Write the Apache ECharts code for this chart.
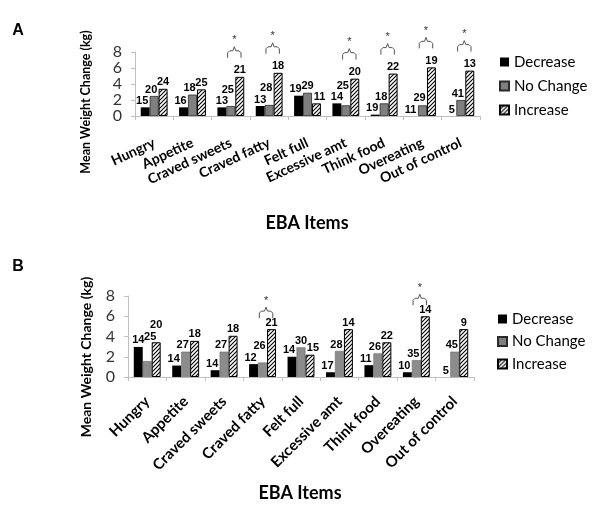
<!DOCTYPE html>
<html><head><meta charset="utf-8">
<script src="https://cdn.jsdelivr.net/npm/echarts@6/dist/echarts.min.js"></script>
<style>html,body{margin:0;padding:0;background:#fff}#c{width:600px;height:511px}</style>
</head><body><div id="c"></div>
<script>
const categories = ['Hungry','Appetite','Craved sweets','Craved fatty','Felt full','Excessive amt','Think food','Overeating','Out of control'];
const yTicks = [0, 2, 4, 6, 8];
const seriesNames = ['Decrease', 'No Change', 'Increase'];

// Panel A: mean weight change (kg)
const decreaseA = [1.08, 1.08, 1.08, 1.25, 2.54, 1.58, 0.17, 0, 0];
const noChangeA = [2.5, 2.67, 1.25, 1.38, 2.9, 1.33, 1.58, 1.33, 2.0];
const increaseA = [3.4, 3.33, 4.9, 5.4, 1.58, 4.67, 5.3, 6.08, 5.67];
// Panel A: counts shown above bars
const decreaseNA = [15, 16, 13, 13, 19, 14, 19, 11, 5];
const noChangeNA = [20, 18, 25, 28, 29, 25, 18, 29, 41];
const increaseNA = [24, 25, 21, 18, 11, 20, 22, 19, 13];
const significantA = ['Craved sweets','Craved fatty','Excessive amt','Think food','Overeating','Out of control'];

// Panel B
const decreaseB = [2.97, 1.13, 0.67, 1.27, 2.0, 0.47, 1.17, 0.47, 0];
const noChangeB = [1.57, 2.5, 2.5, 1.43, 2.93, 2.57, 2.33, 1.67, 2.5];
const increaseB = [3.43, 3.57, 4.07, 4.73, 2.2, 4.73, 3.43, 6.0, 4.73];
const decreaseNB = [14, 14, 14, 12, 14, 17, 11, 10, 5];
const noChangeNB = [25, 27, 27, 26, 30, 28, 26, 35, 45];
const increaseNB = [20, 18, 18, 21, 15, 14, 22, 14, 9];
const significantB = ['Craved fatty','Overeating'];

const panelVals = [[decreaseA, noChangeA, increaseA], [decreaseB, noChangeB, increaseB]];
const panelCounts = [[decreaseNA, noChangeNA, increaseNA], [decreaseNB, noChangeNB, increaseNB]];

// hatch pattern
const pc = document.createElement('canvas');
pc.width = 4; pc.height = 4;
const pctx = pc.getContext('2d');
pctx.fillStyle = '#fff'; pctx.fillRect(0,0,4,4);
pctx.strokeStyle = '#000'; pctx.lineWidth = 1.1;
pctx.beginPath();
pctx.moveTo(0,4); pctx.lineTo(4,0);
pctx.moveTo(-1,1); pctx.lineTo(1,-1);
pctx.moveTo(3,5); pctx.lineTo(5,3);
pctx.stroke();
const hatch = { image: pc, repeat: 'repeat' };

const panelStyles = [
  [
    { color: '#000000', borderWidth: 0 },
    { color: '#7f7f7f', borderColor: '#2a2a2a', borderWidth: 0.8 },
    { color: hatch, borderColor: '#000', borderWidth: 1 }
  ],
  [
    { color: '#000000', borderWidth: 0 },
    { color: '#8c8c8c', borderColor: '#6a6a6a', borderWidth: 0.6 },
    { color: hatch, borderColor: '#000', borderWidth: 1 }
  ]
];

const LABEL_FONT = 'bold 11px "Liberation Sans"';
const labelFont = { fontFamily: 'Liberation Sans', fontSize: 11, fontWeight: 'bold', color: '#000' };

function barSeries(gi) {
  return panelVals[gi].map((v, si) => ({
    type: 'bar', name: seriesNames[si], xAxisIndex: gi, yAxisIndex: gi,
    data: v, barGap: '0%', barCategoryGap: '30%',
    itemStyle: panelStyles[gi][si],
    label: { show: true, position: 'top', distance: 1, ...labelFont,
      formatter: p => String(panelCounts[gi][si][p.dataIndex]) },
    emphasis: { disabled: true }, animation: false
  }));
}

function braceSeries(gi, sig, inc, gap) {
  const data = sig.map(n => { const i = categories.indexOf(n); return [i, inc[i]]; });
  return {
    type: 'custom', xAxisIndex: gi, yAxisIndex: gi, data: data, silent: true, animation: false, z: 5,
    renderItem: (params, api) => {
      const p = api.coord([api.value(0), api.value(1)]);
      const band = api.size([1, 0])[0];
      const bw = band * 0.7 / 3;
      const xc = p[0] + bw / 2 - 1;
      const hw = bw * 0.75;
      const yE = p[1] - gap;
      const yH = yE - 7;
      const yP = yH - 4;
      return { type: 'group', children: [
        { type: 'polyline', shape: { points: [[xc-hw,yE],[xc-hw,yH+2],[xc-hw+2,yH],[xc-1.5,yH],[xc,yP],[xc+1.5,yH],[xc+hw-2,yH],[xc+hw,yH+2],[xc+hw,yE]] },
          style: { stroke: '#555', lineWidth: 1, fill: null } },
        { type: 'text', style: { text: '*', x: xc, y: yP - 1, align: 'center', verticalAlign: 'bottom',
          font: '11px "Liberation Sans"', fill: '#333' } }
      ]};
    }
  };
}

const grids = [
  { left: 135, top: 52, width: 345, height: 64 },
  { left: 128, top: 296, width: 346, height: 81 }
];

function xAx(gi, rot, margin, fs) {
  return { type: 'category', gridIndex: gi, data: categories,
    axisLine: { lineStyle: { color: '#bfbfbf', width: 1 } },
    axisTick: { show: true, length: 4, lineStyle: { color: '#bfbfbf' } },
    axisLabel: { rotate: rot, margin: margin, interval: 0, fontFamily: 'Lato', fontWeight: 'bold', fontSize: fs, color: '#000' } };
}
function yAx(gi) {
  return { type: 'value', gridIndex: gi, min: 0, max: 8, interval: 2,
    axisLine: { show: true, lineStyle: { color: '#bfbfbf' } },
    axisTick: { show: true, length: 4, lineStyle: { color: '#bfbfbf' } },
    splitLine: { show: false },
    axisLabel: { margin: 13, fontFamily: 'Lato', fontSize: 16, color: '#333',
      formatter: v => yTicks.includes(v) ? String(v) : '' } };
}

const legendCommon = { orient: 'vertical', itemWidth: 9, itemHeight: 9, icon: 'rect', data: seriesNames,
  textStyle: { fontFamily: 'Lato', fontSize: 15, color: '#000', lineHeight: 16 }, selectedMode: false };

const option = {
  backgroundColor: '#fff',
  animation: false,
  grid: grids,
  xAxis: [xAx(0, 25, 26, 14), xAx(1, 45, 22, 15)],
  yAxis: [yAx(0), yAx(1)],
  legend: [
    { ...legendCommon, left: 494, top: 49, itemGap: 8 },
    { ...legendCommon, left: 492, top: 306, itemGap: 6.5 }
  ],
  series: [
    ...barSeries(0),
    ...barSeries(1),
    braceSeries(0, significantA, increaseA, 19),
    braceSeries(1, significantB, increaseB, 11)
  ],
  graphic: [
    { type: 'text', x: 18, y: 31, style: { text: 'A', font: 'bold 16px "Liberation Sans"', fill: '#000', align: 'center', verticalAlign: 'middle' } },
    { type: 'text', x: 18, y: 267, style: { text: 'B', font: 'bold 16px "Liberation Sans"', fill: '#000', align: 'center', verticalAlign: 'middle' } },
    { type: 'text', x: 86, y: 102, rotation: Math.PI / 2, style: { text: 'Mean Weight Change (kg)', font: 'bold 12.5px Lato', fill: '#000', align: 'center', verticalAlign: 'middle' } },
    { type: 'text', x: 86, y: 357, rotation: Math.PI / 2, style: { text: 'Mean Weight Change (kg)', font: 'bold 14px Lato', fill: '#000', align: 'center', verticalAlign: 'middle' } },
    { type: 'text', x: 307, y: 223, style: { text: 'EBA Items', font: 'bold 18px Lato', fill: '#000', align: 'center', verticalAlign: 'middle' } },
    { type: 'text', x: 300, y: 493, style: { text: 'EBA Items', font: 'bold 18px Lato', fill: '#000', align: 'center', verticalAlign: 'middle' } }
  ]
};

const chart = echarts.init(document.getElementById('c'), null, { renderer: 'canvas' });
chart.setOption(option);

// Label placement (Excel-like): avoid overlapping neighbouring bars and earlier labels
function placeLabels() {
  const model = chart.getModel();
  const mctx = document.createElement('canvas').getContext('2d');
  mctx.font = LABEL_FONT;
  const updates = [];
  for (let gi = 0; gi < 2; gi++) {
    const perSeries = [[], [], []];
    for (let i = 0; i < categories.length; i++) {
      const bars = [0, 1, 2].map(si => {
        const L = model.getSeriesByIndex(gi * 3 + si).getData().getItemLayout(i);
        return { x: Math.min(L.x, L.x + L.width), w: Math.abs(L.width),
                 top: Math.min(L.y, L.y + L.height), bottom: Math.max(L.y, L.y + L.height) };
      });
      const placed = [];
      for (let si = 0; si < 3; si++) {
        const b = bars[si];
        const w = mctx.measureText(String(panelCounts[gi][si][i])).width;
        const h = 11;
        const cx = b.x + b.w / 2;
        const base = b.top - 1;
        let best = [0, 0];
        search:
        for (let dy = 0; dy >= -60; dy--) {
          for (const dx of [0, -3, 3, -5]) {
            const r = { x1: cx - w / 2 + dx, x2: cx + w / 2 + dx, y2: base + dy, y1: base + dy - h };
            let hit = false;
            for (let sj = 0; sj < 3 && !hit; sj++) {
              if (sj === si) continue;
              const o = bars[sj];
              if (r.x1 < o.x + o.w - 0.5 && o.x + 0.5 < r.x2 && r.y1 < o.bottom && o.top + 0.5 < r.y2) hit = true;
            }
            for (const p of placed) {
              if (hit) break;
              if (r.x1 < p.x2 - 0.5 && p.x1 + 0.5 < r.x2 && r.y1 < p.y2 && p.y1 < r.y2) hit = true;
            }
            if (!hit) { best = [dx, dy]; placed.push(r); break search; }
          }
        }
        perSeries[si][i] = best;
      }
    }
    for (let si = 0; si < 3; si++) {
      updates[gi * 3 + si] = {
        data: panelVals[gi][si].map((v, i) => ({ value: v, label: { offset: perSeries[si][i] } }))
      };
    }
  }
  chart.setOption({ series: updates });
}
placeLabels();
</script>
</body></html>
